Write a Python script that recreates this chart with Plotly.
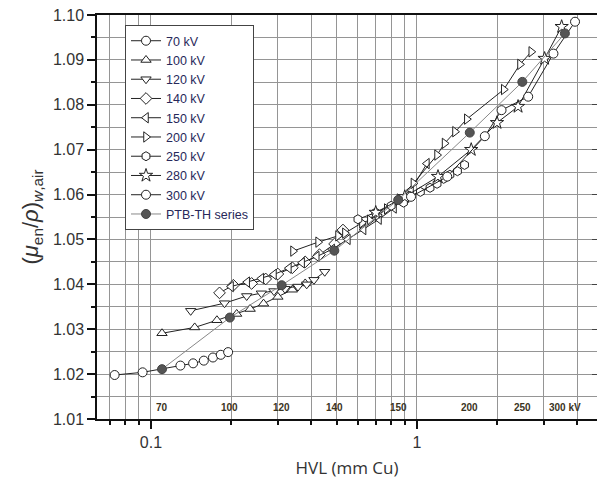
import math
import plotly.graph_objects as go

# HVL (mm Cu) and (mu_en/rho)_w,air for each tube voltage
hvl_70 = [0.073, 0.093, 0.129, 0.144, 0.158, 0.171, 0.183, 0.195]
ratio_70 = [1.0198, 1.0204, 1.0219, 1.0224, 1.0230, 1.0237, 1.0243, 1.0249]

hvl_100 = [0.110, 0.146, 0.177, 0.210, 0.236, 0.265, 0.300, 0.340, 0.380]
ratio_100 = [1.0291, 1.0304, 1.0320, 1.0334, 1.0345, 1.0357, 1.0372, 1.0388, 1.0402]

hvl_120 = [0.141, 0.189, 0.229, 0.260, 0.290, 0.319, 0.357, 0.385, 0.410, 0.450]
ratio_120 = [1.0341, 1.0358, 1.0374, 1.0380, 1.0385, 1.0390, 1.0395, 1.0400, 1.0410, 1.0428]

hvl_140 = [0.181, 0.204, 0.239, 0.270, 0.300, 0.340, 0.380, 0.430, 0.490, 0.527]
ratio_140 = [1.0381, 1.0398, 1.0402, 1.0412, 1.0423, 1.0437, 1.0450, 1.0466, 1.0490, 1.0521]

hvl_150 = [0.200, 0.230, 0.260, 0.290, 0.330, 0.370, 0.420, 0.480, 0.550, 0.630, 0.720, 0.820, 0.950, 1.090]
ratio_150 = [1.0395, 1.0405, 1.0413, 1.0422, 1.0436, 1.0448, 1.0462, 1.0478, 1.0500, 1.0522, 1.0545, 1.0570, 1.0610, 1.0669]

hvl_200 = [0.342, 0.425, 0.505, 0.536, 0.621, 0.665, 0.713, 0.770, 0.860, 0.970,
           1.190, 1.270, 1.390, 1.540, 2.120, 2.440, 2.690]
ratio_200 = [1.0474, 1.0494, 1.0508, 1.0514, 1.0537, 1.0543, 1.0554, 1.0568, 1.0590, 1.0625,
             1.0688, 1.0714, 1.0740, 1.0768, 1.0834, 1.0890, 1.0918]

hvl_250 = [0.600, 0.700, 0.800, 0.890, 0.940, 1.030, 1.120, 1.190, 1.260, 1.330, 1.420, 1.510]
ratio_250 = [1.0545, 1.0560, 1.0575, 1.0582, 1.0597, 1.0606, 1.0615, 1.0624, 1.0635, 1.0644, 1.0652, 1.0666]

hvl_280 = [0.700, 0.900, 1.200, 1.600, 2.000, 2.400, 3.020, 3.500]
ratio_280 = [1.0560, 1.0595, 1.0640, 1.0700, 1.0760, 1.0796, 1.0903, 1.0974]

hvl_300 = [0.950, 1.300, 1.800, 2.080, 2.620, 3.260, 3.930]
ratio_300 = [1.0595, 1.0640, 1.0730, 1.0788, 1.0818, 1.0914, 1.0985]

hvl_ptb = [0.110, 0.198, 0.310, 0.489, 0.850, 1.580, 2.490, 3.600]
ratio_ptb = [1.0211, 1.0326, 1.0398, 1.0475, 1.0588, 1.0738, 1.0851, 1.0959]
ptb_kv_labels = ["70", "100", "120", "140", "150", "200", "250", "300 kV"]

series = [
    ("70 kV", hvl_70, ratio_70, "circle"),
    ("100 kV", hvl_100, ratio_100, "triangle-up"),
    ("120 kV", hvl_120, ratio_120, "triangle-down"),
    ("140 kV", hvl_140, ratio_140, "diamond"),
    ("150 kV", hvl_150, ratio_150, "triangle-left"),
    ("200 kV", hvl_200, ratio_200, "triangle-right"),
    ("250 kV", hvl_250, ratio_250, "hexagon"),
    ("280 kV", hvl_280, ratio_280, "star"),
    ("300 kV", hvl_300, ratio_300, "circle"),
]

fig = go.Figure()
for name, xs, ys, sym in series:
    fig.add_trace(go.Scatter(
        x=xs, y=ys, name=name, mode="lines+markers",
        line=dict(color="#222", width=1),
        marker=dict(symbol=sym, size=9 if sym != "star" else 10, color="white",
                    line=dict(color="#222", width=1)),
    ))

fig.add_trace(go.Scatter(
    x=hvl_ptb, y=ratio_ptb, name="PTB-TH series", mode="lines+markers",
    line=dict(color="#888", width=1),
    marker=dict(symbol="circle", size=9, color="#555", line=dict(color="#444", width=1)),
))

# dummy trace so the right-hand tick axis is drawn
fig.add_trace(go.Scatter(x=[None], y=[None], yaxis="y2", showlegend=False, hoverinfo="skip"))

# tube-voltage labels placed under the PTB-TH points (log axis -> log10 position)
for xv, lab in zip(hvl_ptb, ptb_kv_labels):
    fig.add_annotation(x=math.log10(xv), y=1.0125, xref="x", yref="y", text=f"<b>{lab}</b>",
                       showarrow=False, xanchor="center", yanchor="middle",
                       font=dict(family="Liberation Sans", size=10, color="#3a3322"))

grid = "#959595"
minor_x = [0.07, 0.08, 0.09, 0.2, 0.3, 0.4, 0.5, 0.6, 0.7, 0.8, 0.9, 2, 3, 4]

fig.update_layout(
    width=597, height=486,
    margin=dict(l=97, r=0, t=15, b=67),
    paper_bgcolor="white", plot_bgcolor="white",
    font=dict(family="Liberation Sans", color="#333"),
    showlegend=True,
    legend=dict(x=0.056, y=0.975, xanchor="left", yanchor="top",
                bgcolor="white", bordercolor="#444", borderwidth=1,
                font=dict(family="Liberation Sans", size=12.5, color="#27285a"),
                tracegroupgap=0, itemwidth=30),
    xaxis=dict(
        type="log", range=[-1.203, 0.677],
        tickvals=[0.1, 1], ticktext=["0.1", "1"],
        ticks="outside", ticklen=8, tickwidth=1.5, tickcolor="#111",
        showline=True, linecolor="#111", linewidth=1.5, mirror=True,
        showgrid=True, gridcolor=grid, gridwidth=1,
        minor=dict(tickvals=minor_x, ticks="outside", ticklen=4, tickcolor="#111",
                   showgrid=True, gridcolor=grid, gridwidth=1),
        tickfont=dict(size=16, color="#333"),
        title=dict(text="HVL (mm Cu)", font=dict(family="Open Sans", size=17, color="#333"),
                   standoff=12),
        zeroline=False,
    ),
    yaxis=dict(
        range=[1.01, 1.10], dtick=0.01, tick0=1.0, tickformat=".2f",
        ticks="outside", ticklen=8, tickwidth=1.5, tickcolor="#111",
        showline=True, linecolor="#111", linewidth=1.5,
        showgrid=True, gridcolor=grid, gridwidth=1,
        minor=dict(dtick=0.005, ticks="outside", ticklen=4, tickcolor="#111",
                   showgrid=True, gridcolor=grid, gridwidth=1),
        tickfont=dict(size=16, color="#333"),
        title=dict(text="(<i>μ</i><sub>en</sub>/<i>ρ</i>)<sub><i>w</i>,air</sub>",
                   font=dict(family="Liberation Sans", size=22, color="#333"), standoff=8),
        zeroline=False,
    ),
    yaxis2=dict(
        overlaying="y", side="right", matches="y", range=[1.01, 1.10], dtick=0.01,
        ticks="inside", ticklen=5, tickcolor="#444", showticklabels=False,
        showgrid=False, showline=False, zeroline=False,
    ),
)

fig.write_html("out.html")
